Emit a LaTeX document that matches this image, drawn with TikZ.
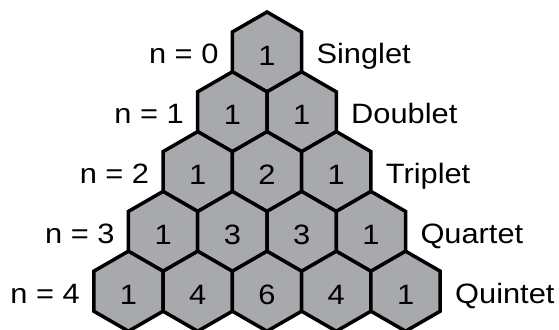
\documentclass[tikz,border=0pt]{standalone}
\usepackage{fontspec}
\setmainfont{Liberation Sans}[FakeStretch=1.1]
\usetikzlibrary{shapes.geometric}

\definecolor{hexgray}{RGB}{167,169,172}

\tikzset{
  hexcell/.style={regular polygon, regular polygon sides=6, shape border rotate=30,
    minimum size=80pt, inner sep=0pt, draw=black, line width=3.5pt, fill=hexgray,
    text height=26pt, font=\fontsize{28}{32}\selectfont},
  rowlbl/.style={inner sep=0pt, anchor=base east, font=\fontsize{28}{32}\selectfont},
  multlbl/.style={inner sep=0pt, anchor=base west, font=\fontsize{28}{32}\selectfont}
}

\begin{document}
\begin{tikzpicture}[x=1pt, y=-1pt]
	\useasboundingbox (0,0) rectangle (559,329);
	
	% Pascal triangle of hexagons
	\node[hexcell] (h00) at (267,52) {1};
	
	\node[hexcell] (h10) at (232.36,111.8) {1};
	\node[hexcell] (h11) at (301.64,111.8) {1};
	
	\node[hexcell] (h20) at (197.72,171.6) {1};
	\node[hexcell] (h21) at (267,171.6) {2};
	\node[hexcell] (h22) at (336.28,171.6) {1};
	
	\node[hexcell] (h30) at (163.08,231.4) {1};
	\node[hexcell] (h31) at (232.36,231.4) {3};
	\node[hexcell] (h32) at (301.64,231.4) {3};
	\node[hexcell] (h33) at (370.92,231.4) {1};
	
	\node[hexcell] (h40) at (128.44,291.2) {1};
	\node[hexcell] (h41) at (197.72,291.2) {4};
	\node[hexcell] (h42) at (267,291.2) {6};
	\node[hexcell] (h43) at (336.28,291.2) {4};
	\node[hexcell] (h44) at (405.56,291.2) {1};
	
	% Row labels on the left
	\node[rowlbl] (n0) at ([shift={(-12pt,-12pt)}]h00.west) {n = 0};
	\node[rowlbl] (n1) at ([shift={(-12pt,-12pt)}]h10.west) {n = 1};
	\node[rowlbl] (n2) at ([shift={(-12pt,-12pt)}]h20.west) {n = 2};
	\node[rowlbl] (n3) at ([shift={(-12pt,-12pt)}]h30.west) {n = 3};
	\node[rowlbl] (n4) at ([shift={(-12pt,-12pt)}]h40.west) {n = 4};
	
	% Multiplicity names on the right
	\node[multlbl] (m0) at ([shift={(13pt,-12pt)}]h00.east) {Singlet};
	\node[multlbl] (m1) at ([shift={(13pt,-12pt)}]h11.east) {Doublet};
	\node[multlbl] (m2) at ([shift={(13pt,-12pt)}]h22.east) {Triplet};
	\node[multlbl] (m3) at ([shift={(13pt,-12pt)}]h33.east) {Quartet};
	\node[multlbl] (m4) at ([shift={(13pt,-12pt)}]h44.east) {Quintet};
\end{tikzpicture}
\end{document}
